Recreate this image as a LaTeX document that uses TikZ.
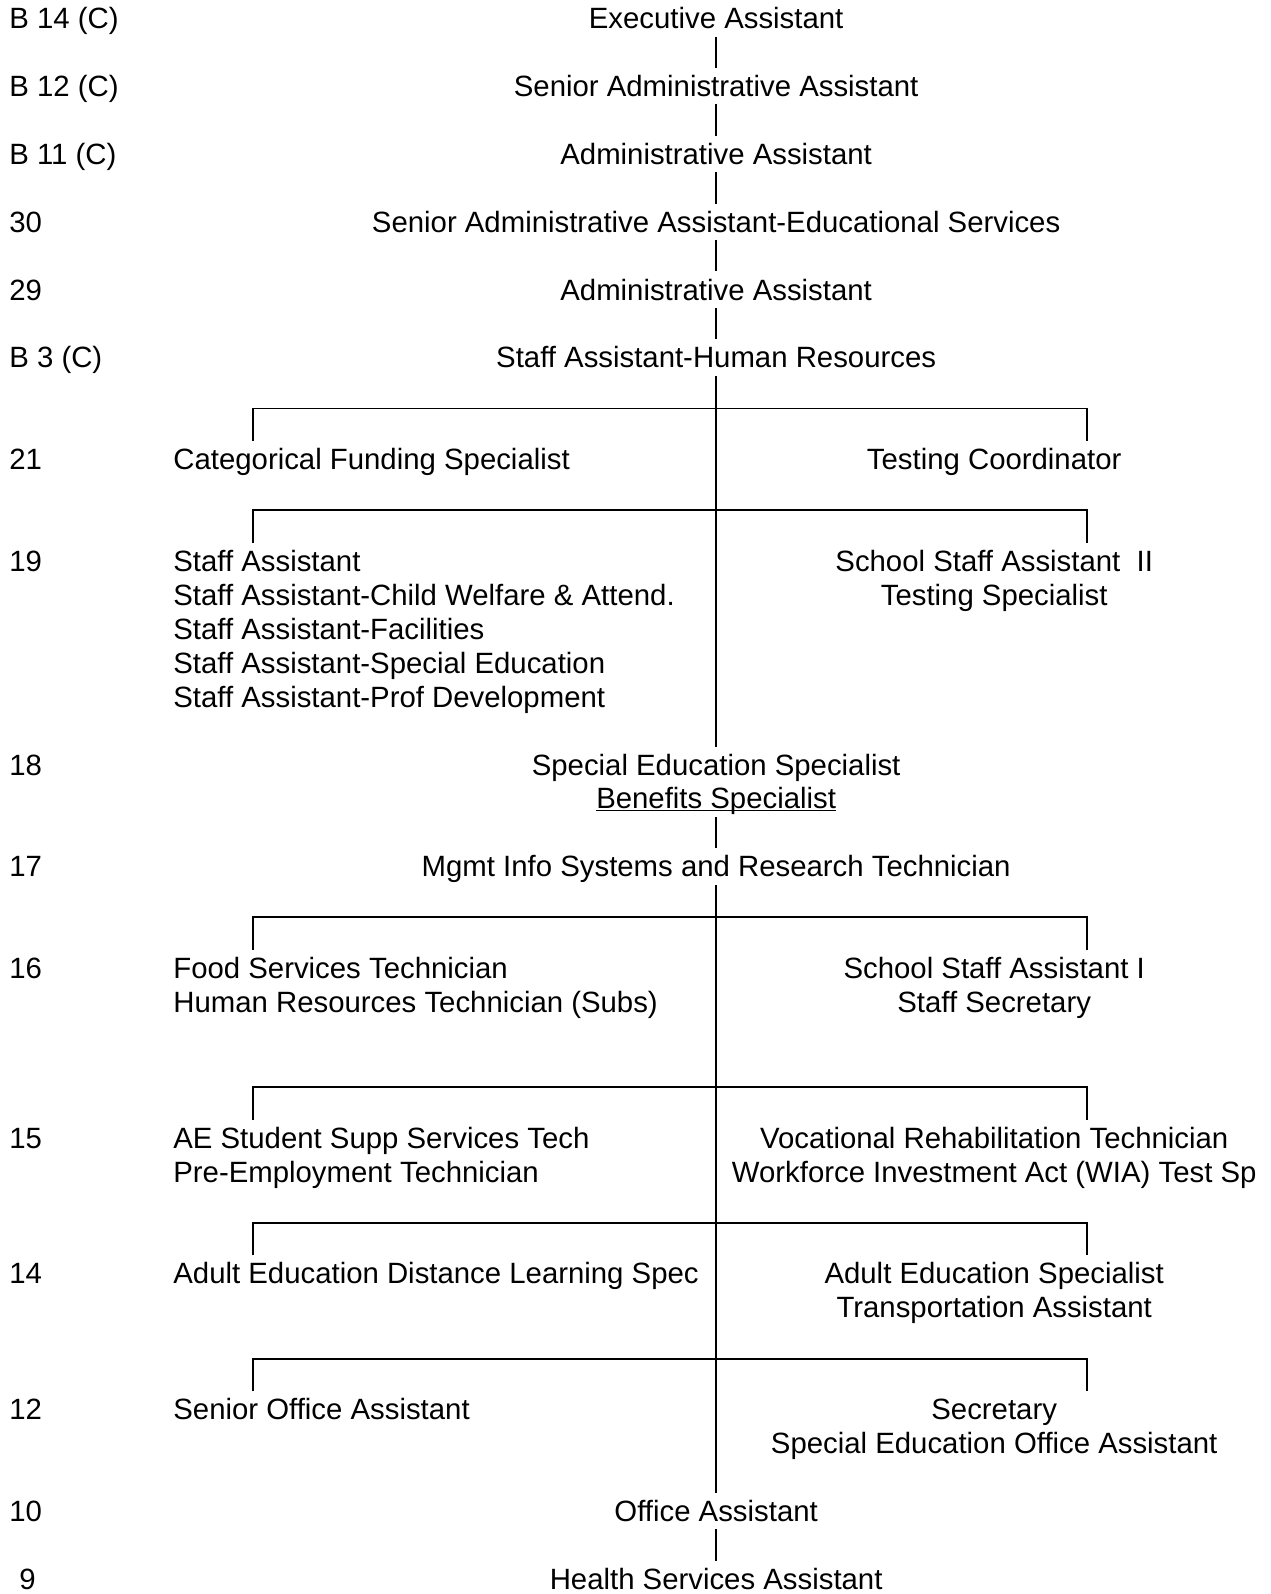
\documentclass[tikz,border=0pt]{standalone}
\usepackage{fontspec}
\setmainfont{Liberation Sans}

\begin{document}
\begin{tikzpicture}[
  x=0.02cm,y=-0.6786cm,
  post/.style={inner sep=0pt, text height=16.03pt, text depth=4.34pt, font=\fontsize{16.7}{20}\selectfont},
  grade/.style={post, anchor=west},
  lcol/.style={post, anchor=west},
  ccol/.style={post},
  rcol/.style={post},
  spine/.style={line width=0.8pt},
  bracket/.style={line width=1.1pt}
]
\useasboundingbox (0,-0.5393) rectangle (1270,46.44);

% grade labels
\node[grade] (g1) at (9,0) {B 14 (C)};
\node[grade] (g2) at (9,2) {B 12 (C)};
\node[grade] (g3) at (9,4) {B 11 (C)};
\node[grade] (g4) at (9,6) {30};
\node[grade] (g5) at (9,8) {29};
\node[grade] (g6) at (9,10) {B 3 (C)};
\node[grade] (g7) at (9,13) {21};
\node[grade] (g8) at (9,16) {19};
\node[grade] (g9) at (9,22) {18};
\node[grade] (g10) at (9,25) {17};
\node[grade] (g11) at (9,28) {16};
\node[grade] (g12) at (9,33) {15};
\node[grade] (g13) at (9,37) {14};
\node[grade] (g14) at (9,41) {12};
\node[grade] (g15) at (9,44) {10};
\node[grade] (g16) at (19,46) {9};

% top chain
\node[ccol] (ea) at (716,0) {Executive Assistant};
\node[ccol] (sra) at (716,2) {Senior Administrative Assistant};
\node[ccol] (aa1) at (716,4) {Administrative Assistant};
\node[ccol] (srae) at (716,6) {Senior Administrative Assistant-Educational Services};
\node[ccol] (aa2) at (716,8) {Administrative Assistant};
\node[ccol] (sahr) at (716,10) {Staff Assistant-Human Resources};

% grade 21
\node[lcol] (cfs) at (173,13) {Categorical Funding Specialist};
\node[rcol] (tc) at (994,13) {Testing Coordinator};

% grade 19
\node[lcol] (sa1) at (173,16) {Staff Assistant};
\node[lcol] (sa2) at (173,17) {Staff Assistant-Child Welfare \& Attend.};
\node[lcol] (sa3) at (173,18) {Staff Assistant-Facilities};
\node[lcol] (sa4) at (173,19) {Staff Assistant-Special Education};
\node[lcol] (sa5) at (173,20) {Staff Assistant-Prof Development};
\node[rcol] (ssa2) at (994,16) {School Staff Assistant\ \ II};
\node[rcol] (ts) at (994,17) {Testing Specialist};

% grade 18 and 17
\node[ccol] (ses) at (716,22) {Special Education Specialist};
\node[ccol] (bs) at (716,23) {Benefits Specialist};
\node[ccol] (mis) at (716,25) {Mgmt Info Systems and Research Technician};

% grade 16
\node[lcol] (fst) at (173,28) {Food Services Technician};
\node[lcol] (hrt) at (173,29) {Human Resources Technician (Subs)};
\node[rcol] (ssa1) at (994,28) {School Staff Assistant I};
\node[rcol] (ss) at (994,29) {Staff Secretary};

% grade 15
\node[lcol] (aet) at (173,33) {AE Student Supp Services Tech};
\node[lcol] (pet) at (173,34) {Pre-Employment Technician};
\node[rcol] (vrt) at (994,33) {Vocational Rehabilitation Technician};
\node[rcol] (wia) at (994,34) {Workforce Investment Act (WIA) Test Sp};

% grade 14
\node[lcol] (aed) at (173,37) {Adult Education Distance Learning Spec};
\node[rcol] (aes) at (994,37) {Adult Education Specialist};
\node[rcol] (ta) at (994,38) {Transportation Assistant};

% grade 12
\node[lcol] (soa) at (173,41) {Senior Office Assistant};
\node[rcol] (sec) at (994,41) {Secretary};
\node[rcol] (seoa) at (994,42) {Special Education Office Assistant};

% grade 10 and 9
\node[ccol] (oa) at (716,44) {Office Assistant};
\node[ccol] (hsa) at (716,46) {Health Services Assistant};

% spine
\draw[spine] (ea) -- (sra) -- (aa1) -- (srae) -- (aa2) -- (sahr) -- (ses);
\draw[spine] (bs) -- (mis) -- (oa) -- (hsa);
\draw[line width=0.7pt] ([yshift=-0.03cm]bs.base west) -- ([yshift=-0.03cm]bs.base east);

% brackets
\coordinate (b1w) at (253,11.5);
\coordinate (b1e) at (1087,11.5);
\coordinate (b2w) at (253,14.5);
\coordinate (b2e) at (1087,14.5);
\coordinate (b3w) at (253,26.5);
\coordinate (b3e) at (1087,26.5);
\coordinate (b4w) at (253,31.5);
\coordinate (b4e) at (1087,31.5);
\coordinate (b5w) at (253,35.5);
\coordinate (b5e) at (1087,35.5);
\coordinate (b6w) at (253,39.5);
\coordinate (b6e) at (1087,39.5);

\draw[bracket] (b1w |- cfs.north) -- (b1w) -- (b1e) -- (b1e |- tc.north);
\draw[bracket] (b2w |- sa1.north) -- (b2w) -- (b2e) -- (b2e |- ssa2.north);
\draw[bracket] (b3w |- fst.north) -- (b3w) -- (b3e) -- (b3e |- ssa1.north);
\draw[bracket] (b4w |- aet.north) -- (b4w) -- (b4e) -- (b4e |- vrt.north);
\draw[bracket] (b5w |- aed.north) -- (b5w) -- (b5e) -- (b5e |- aes.north);
\draw[bracket] (b6w |- soa.north) -- (b6w) -- (b6e) -- (b6e |- sec.north);

\end{tikzpicture}
\end{document}
